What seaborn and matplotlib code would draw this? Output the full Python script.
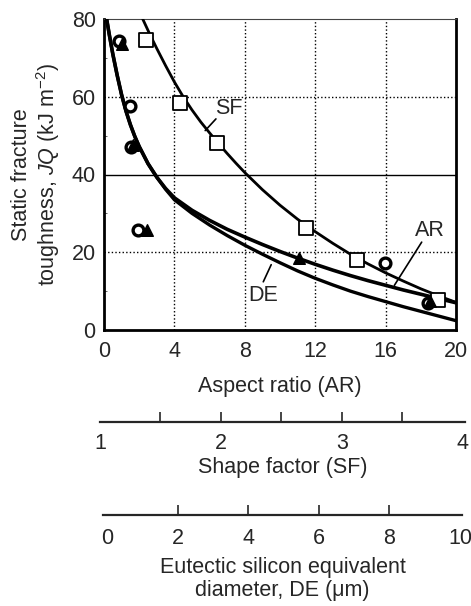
import numpy as np
import pandas as pd
import matplotlib
matplotlib.use('Agg')
import matplotlib.pyplot as plt
import seaborn as sns

sns.set_style('white')
plt.rcParams['font.family'] = ['Liberation Sans', 'DejaVu Sans']
plt.rcParams['mathtext.fontset'] = 'custom'
plt.rcParams['mathtext.rm'] = 'Liberation Sans'
plt.rcParams['mathtext.it'] = 'Liberation Sans:italic'

# fitted curves, read on the aspect-ratio scale
sf_x = [2.2, 2.6, 3.0, 3.5, 4.0, 4.5, 5.0, 5.5, 6.0, 6.5, 7.0, 7.5, 8, 9, 10, 11, 12, 13, 14, 15, 16, 17, 18, 19, 20]
sf_y = [80, 76.1, 72.4, 68.0, 63.8, 60.0, 56.6, 53.5, 50.7, 48.0, 45.4, 42.9, 40.5, 36.1, 32.1, 28.5, 25.3,
        22.3, 19.5, 17.0, 14.7, 12.6, 10.6, 8.8, 7.1]
ar_x = [0.15, 0.3, 0.5, 0.75, 1.0, 1.25, 1.5, 1.75, 2.0, 2.5, 3.0, 3.5, 4, 5, 6, 7, 8, 9, 10, 11, 12, 13, 14,
        15, 16, 17, 18, 19, 20]
ar_y = [80, 76, 71, 65.5, 60.5, 56.3, 52.8, 49.8, 47.2, 42.8, 39.3, 36.4, 34.0, 30.8, 28.2, 25.9, 23.9, 22.0,
        20.2, 18.5, 16.9, 15.4, 14.0, 12.7, 11.5, 10.3, 9.2, 8.1, 7.0]
de_x = [0.15, 0.3, 0.5, 0.75, 1.0, 1.25, 1.5, 1.75, 2.0, 2.5, 3.0, 3.5, 4, 5, 6, 7, 8, 9, 10, 11, 12, 13, 14,
        15, 16, 17, 18, 19, 20]
de_y = [80, 76, 71, 65.5, 60.5, 56.3, 52.8, 49.8, 47.2, 42.8, 39.3, 36.2, 33.5, 30.0, 27.0, 24.3, 21.8, 19.5,
        17.3, 15.2, 13.3, 11.6, 10.0, 8.6, 7.3, 6.0, 4.8, 3.6, 2.4]

# measured points
sq_x = [2.4, 4.3, 6.4, 11.5, 14.4, 19.0]
sq_y = [74.5, 58.3, 48, 26.2, 18.1, 7.8]
tri_x = [1.0, 1.65, 2.45, 11.1, 18.5]
tri_y = [73.5, 47.5, 25.8, 18.6, 7.4]
circ_x = [0.85, 1.5, 1.55, 1.95, 15.95, 18.4]
circ_y = [74.3, 57.6, 47.2, 25.8, 17.3, 7.0]

ar_ticks = [0, 4, 8, 12, 16, 20]
jq_ticks = [0, 20, 40, 60, 80]
sf_ticks = [1, 2, 3, 4]
sf_minor = [1.5, 2.5, 3.5]
de_ticks = [0, 2, 4, 6, 8, 10]

FS = 15.5
W, H = 471, 606
fig = plt.figure(figsize=(W / 100, H / 100), dpi=100)

def box(l, t, r, b):
    return [l / W, 1 - b / H, (r - l) / W, (b - t) / H]

ax = fig.add_axes(box(104, 19, 456, 330))

lines = pd.concat([
    pd.DataFrame({'x': sf_x, 'y': sf_y, 'fit': 'SF'}),
    pd.DataFrame({'x': ar_x, 'y': ar_y, 'fit': 'AR'}),
    pd.DataFrame({'x': de_x, 'y': de_y, 'fit': 'DE'}),
])
sns.lineplot(data=lines, x='x', y='y', hue='fit', size='fit',
             sizes={'SF': 2.0, 'AR': 2.6, 'DE': 2.4},
             palette={'SF': 'black', 'AR': 'black', 'DE': 'black'},
             sort=False, estimator=None, legend=False, ax=ax,
             solid_capstyle='round', solid_joinstyle='round', zorder=3)

ax.scatter(sq_x, sq_y, marker='s', s=110, facecolor='white', edgecolor='black', linewidth=1.3, zorder=5)
ax.scatter(circ_x, circ_y, marker='o', s=60, facecolor='white', edgecolor='black', linewidth=2.4, zorder=4)
ax.scatter(tri_x, tri_y, marker='^', s=70, facecolor='black', edgecolor='black', zorder=5)

ax.set_xlim(0, 20)
ax.set_ylim(0, 80)
ax.set_xticks(ar_ticks)
ax.set_yticks(jq_ticks)
ax.set_yticks([10, 30, 50, 70], minor=True)
ax.tick_params(axis='x', which='major', labelsize=FS, length=0, pad=8)
ax.tick_params(axis='y', which='major', labelsize=FS, length=0, pad=6)
ax.tick_params(axis='y', which='minor', direction='in', length=2, width=0.5, left=True)

for v in [4, 8, 12, 16]:
    ax.axvline(v, color='black', linestyle=(0, (1, 1.6)), linewidth=1.0, zorder=1)
for v in [20, 60]:
    ax.axhline(v, color='black', linestyle=(0, (1, 1.6)), linewidth=1.0, zorder=1)
ax.axhline(40, color='black', linewidth=1.0, zorder=1)

for side in ['left', 'bottom', 'right']:
    ax.spines[side].set_linewidth(2.0)
    ax.spines[side].set_color('black')
ax.spines['top'].set_linewidth(0.8)
ax.spines['top'].set_color('#444444')

ax.set_xlabel('Aspect ratio (AR)', fontsize=FS, labelpad=10)
ax.set_ylabel('Static fracture\ntoughness, $\\it{JQ}$ (kJ m$^{-2}$)', fontsize=FS, labelpad=7, linespacing=1.1)

ax.text(7.1, 57, 'SF', fontsize=FS, ha='center', va='center')
ax.plot([6.36, 5.75], [54.3, 51.3], color='black', linewidth=1.2)
ax.text(18.5, 25.6, 'AR', fontsize=FS, ha='center', va='center')
ax.plot([18.05, 16.5], [22.6, 11.5], color='black', linewidth=1.2)
ax.text(9.05, 9.0, 'DE', fontsize=FS, ha='center', va='center')
ax.plot([9.05, 9.5], [12.4, 16.8], color='black', linewidth=1.2)

# shape factor scale
ax_sf = fig.add_axes(box(100, 395, 465, 421.7))
ax_sf.set_xlim(1.0, 4.02)
ax_sf.set_yticks([])
for side in ['left', 'top', 'right']:
    ax_sf.spines[side].set_visible(False)
ax_sf.spines['bottom'].set_linewidth(1.6)
ax_sf.patch.set_alpha(0)
ax_sf.set_xticks(sf_ticks)
ax_sf.set_xticks(sf_minor, minor=True)
ax_sf.tick_params(axis='x', which='both', direction='in', length=7, width=1.2, bottom=True, labelsize=FS, pad=8)
ticks = ax_sf.xaxis.get_major_ticks()
ticks[0].tick1line.set_visible(False)
ticks[-1].tick1line.set_visible(False)
ax_sf.set_xlabel('Shape factor (SF)', fontsize=FS, labelpad=2)

# eutectic silicon diameter scale
ax_de = fig.add_axes(box(103.3, 490, 461.7, 515))
ax_de.set_xlim(-0.105, 10.05)
ax_de.set_yticks([])
for side in ['left', 'top', 'right']:
    ax_de.spines[side].set_visible(False)
ax_de.spines['bottom'].set_linewidth(1.6)
ax_de.patch.set_alpha(0)
ax_de.set_xticks(de_ticks)
ax_de.tick_params(axis='x', direction='in', length=7, width=1.2, bottom=True, labelsize=FS, pad=9)
ticks = ax_de.xaxis.get_major_ticks()
ticks[0].tick1line.set_visible(False)
ticks[-1].tick1line.set_visible(False)
ax_de.set_xlabel('Eutectic silicon equivalent\ndiameter, DE (\u03bcm)', fontsize=FS, labelpad=6, linespacing=1.15)

fig.savefig('out.png', dpi=100, facecolor='white')
